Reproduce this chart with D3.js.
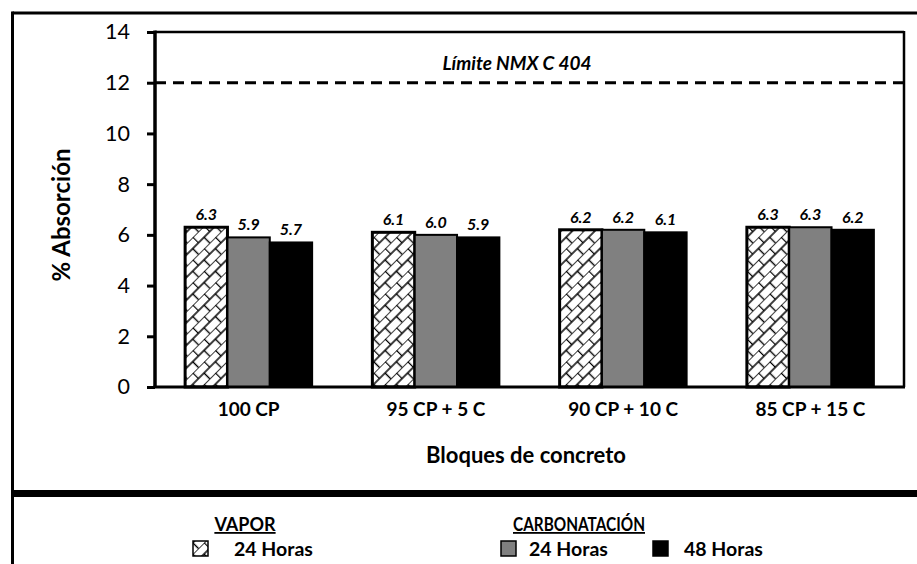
<!DOCTYPE html>
<html><head><meta charset="utf-8">
<script src="https://cdn.jsdelivr.net/npm/d3@7"></script>
<style>
body{margin:0;background:#fff;}
text{font-family:Lato,"Open Sans",sans-serif;}
</style></head>
<body>
<svg id="c" width="917" height="564"></svg>
<script>
const categories = ["100 CP", "95 CP + 5 C", "90 CP + 10 C", "85 CP + 15 C"];
const seriesNames = ["Vapor 24 Horas", "Carbonatación 24 Horas", "Carbonatación 48 Horas"];
const vapor24 = [6.3, 6.1, 6.2, 6.3];
const carb24 = [5.9, 6.0, 6.2, 6.3];
const carb48 = [5.7, 5.9, 6.1, 6.2];
const yTicks = [0, 2, 4, 6, 8, 10, 12, 14];
const limitValue = 12;
const limitLabel = "Límite NMX C 404";
const legendGroups = ["VAPOR", "CARBONATACIÓN"];
const legendLabels = ["24 Horas", "24 Horas", "48 Horas"];

const series = [vapor24, carb24, carb48];
const fills = ["url(#hatch)", "#808080", "#000000"];
const FONT = "Lato,'Open Sans',sans-serif";

const svg = d3.select("#c");
const defs = svg.append("defs");
const pat = defs.append("pattern").attr("id","hatch").attr("patternUnits","userSpaceOnUse")
  .attr("width",16).attr("height",16).attr("patternTransform","rotate(-45)");
pat.append("rect").attr("width",16).attr("height",16).attr("fill","#fff");
pat.append("path").attr("d","M0,0H16M0,8H16M0.5,0V8M8.5,8V16")
  .attr("stroke","#000").attr("stroke-width",1.4).attr("fill","none");

const L = 155, R = 904, T = 32, B = 387;
const x = d3.scaleBand().domain(categories).range([L, R]);
const groupW = 127;
const xs = d3.scaleBand().domain(d3.range(3)).range([0, groupW]);
const y = d3.scaleLinear().domain([0, 14]).range([B, T]);

// outer frame
svg.append("line").attr("x1",12.5).attr("x2",917).attr("y1",13).attr("y2",13).attr("stroke","#000").attr("stroke-width",3);
svg.append("line").attr("x1",12.5).attr("x2",12.5).attr("y1",11.5).attr("y2",564).attr("stroke","#000").attr("stroke-width",3);
svg.append("line").attr("x1",11).attr("x2",917).attr("y1",493.5).attr("y2",493.5).attr("stroke","#000").attr("stroke-width",7);

// plot frame top and right
svg.append("line").attr("x1",L).attr("x2",R).attr("y1",T).attr("y2",T).attr("stroke","#000").attr("stroke-width",2.5);
svg.append("line").attr("x1",R).attr("x2",R).attr("y1",T-1).attr("y2",B).attr("stroke","#000").attr("stroke-width",2.5);

// bars
categories.forEach((c, i) => {
  series.forEach((s, j) => {
    const x0 = x(c) + (x.bandwidth() - groupW) / 2 + xs(j);
    svg.append("rect").attr("x", x0).attr("y", y(s[i])).attr("width", xs.bandwidth())
      .attr("height", y(0) - y(s[i])).attr("fill", fills[j])
      .attr("stroke","#000").attr("stroke-width", j === 0 ? 3 : 2);
    svg.append("text").attr("x", x0 + xs.bandwidth()/2).attr("y", y(s[i]) - 7)
      .attr("text-anchor","middle").attr("font-size",16).attr("font-weight","bold")
      .attr("font-style","italic").text(s[i].toFixed(1));
  });
});

// limit line
svg.append("line").attr("x1",L).attr("x2",R).attr("y1",y(limitValue)).attr("y2",y(limitValue))
  .attr("stroke","#000").attr("stroke-width",3).attr("stroke-dasharray","11,7");
svg.append("text").attr("x",517).attr("y",70).attr("text-anchor","middle")
  .attr("font-size",19).attr("font-weight","bold").attr("font-style","italic").text(limitLabel);

// y axis
const ya = svg.append("g").attr("transform",`translate(${L},0)`)
  .call(d3.axisLeft(y).tickValues(yTicks).tickSize(8).tickPadding(17).tickFormat(d3.format("d")));
ya.select(".domain").attr("stroke-width",3.5).attr("d",`M0,${B}V${T-1.5}`);
ya.selectAll(".tick line").attr("stroke-width",3);
ya.selectAll(".tick text").attr("font-size",21.5).attr("font-family",FONT).attr("fill","#000");

// x axis
const xa = svg.append("g").attr("transform",`translate(0,${B})`)
  .call(d3.axisBottom(x).tickSize(0).tickPadding(16));
xa.select(".domain").attr("stroke-width",3).attr("d",`M${L-1.5},0H${R+1}`);
xa.selectAll(".tick text").attr("font-size",19).attr("font-weight","bold")
  .attr("font-family",FONT).attr("fill","#000");

// axis titles
svg.append("text").attr("transform",`translate(70,215) rotate(-90)`).attr("text-anchor","middle")
  .attr("font-size",24).attr("font-weight","bold").text("% Absorción");
svg.append("text").attr("x",526).attr("y",463).attr("text-anchor","middle")
  .attr("font-size",22).attr("font-weight","bold").text("Bloques de concreto");

// legend
const legHeads = [{x:245, len:null}, {x:579, len:132}];
legHeads.forEach((h, k) => {
  const t = svg.append("text").attr("x",h.x).attr("y",531).attr("text-anchor","middle")
    .attr("font-size",18).attr("font-weight","bold").attr("text-decoration","underline").text(legendGroups[k]);
  if (h.len) t.attr("textLength",h.len).attr("lengthAdjust","spacingAndGlyphs");
});
const legItems = [{x:193, tx:234}, {x:501, tx:529}, {x:653, tx:684}];
legItems.forEach((it, j) => {
  svg.append("rect").attr("x",it.x).attr("y",541).attr("width",15).attr("height",15)
    .attr("fill",fills[j]).attr("stroke","#000").attr("stroke-width",1.5);
  svg.append("text").attr("x",it.tx).attr("y",556).attr("font-size",19.5).attr("font-weight","bold").text(legendLabels[j]);
});
</script>
</body></html>
